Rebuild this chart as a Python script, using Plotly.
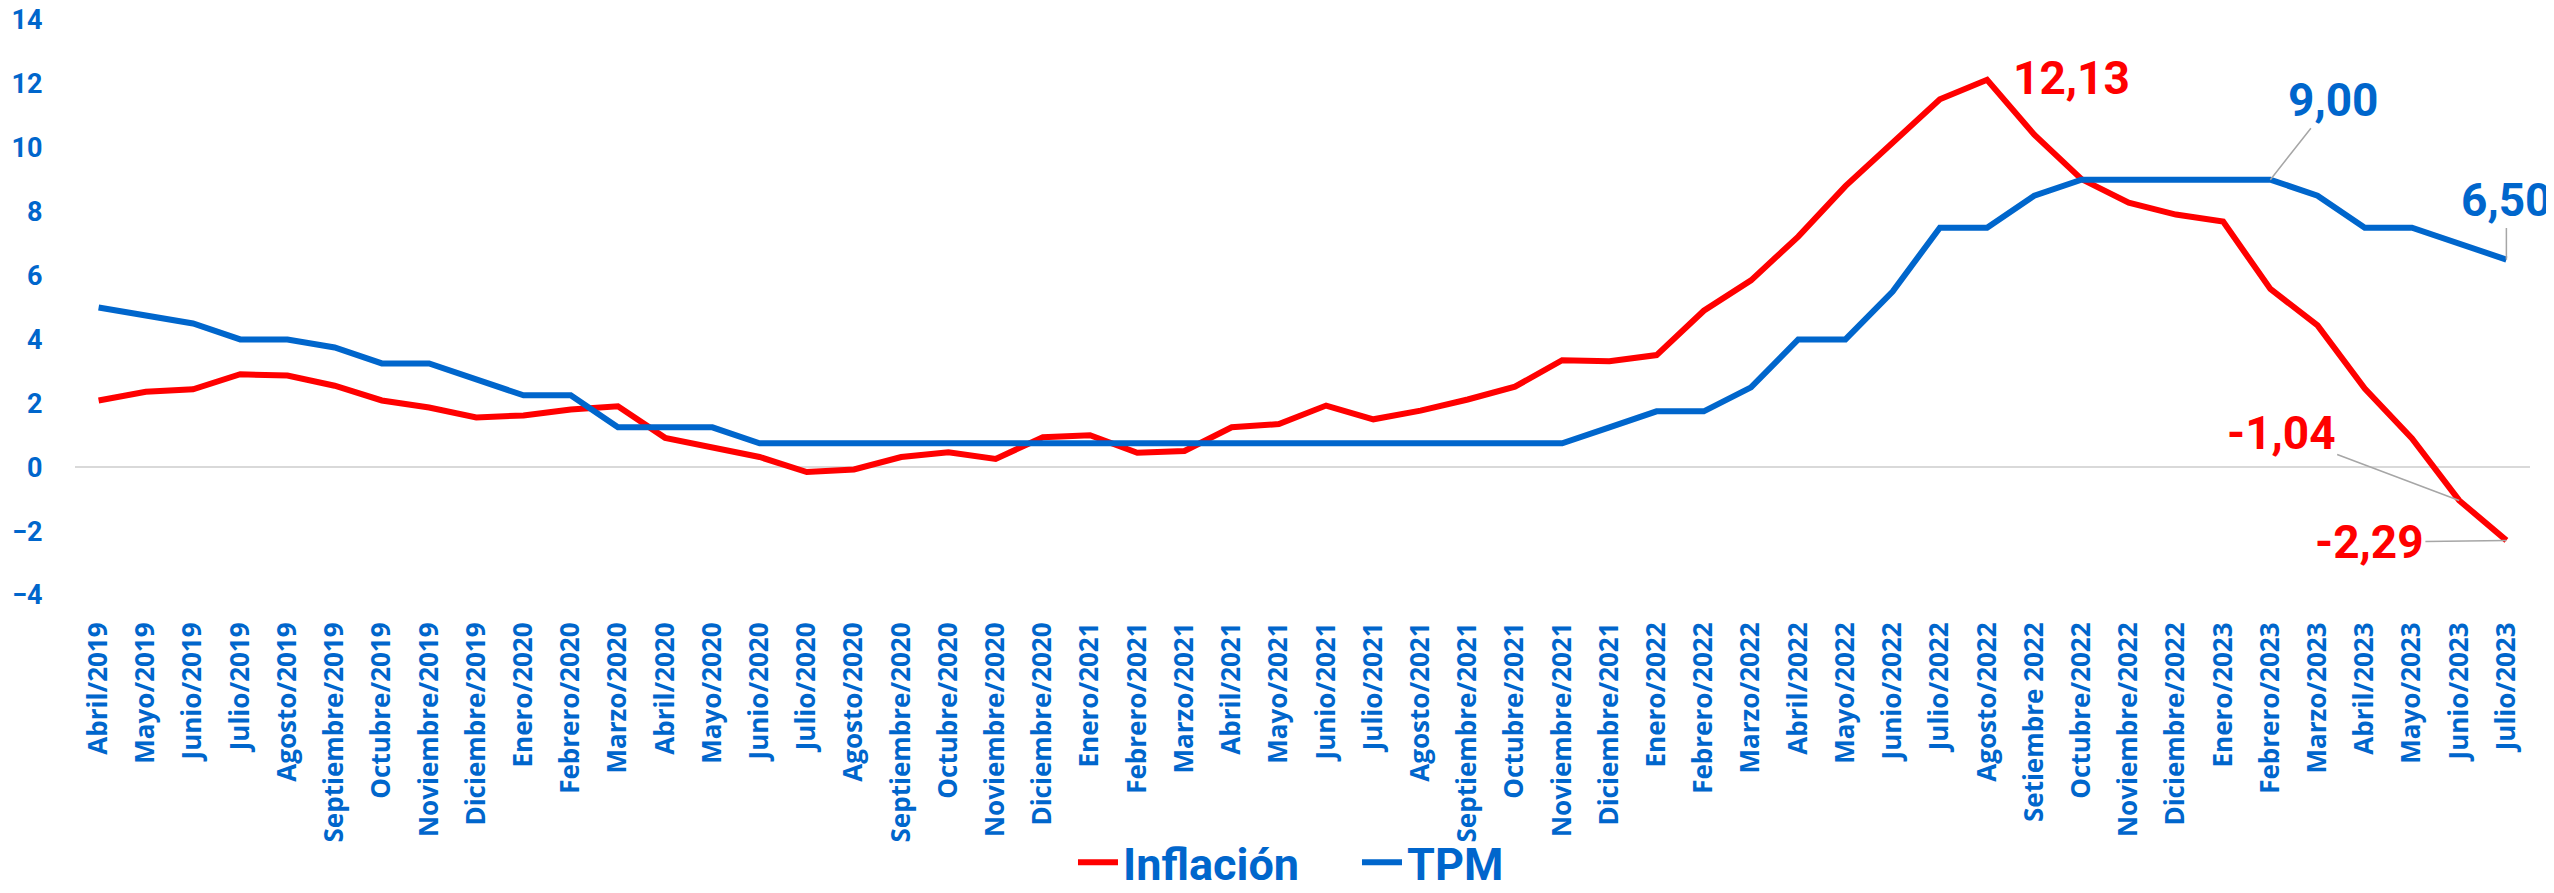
import plotly.graph_objects as go

categorias = [
    "Abril/2019", "Mayo/2019", "Junio/2019", "Julio/2019", "Agosto/2019", "Septiembre/2019",
    "Octubre/2019", "Noviembre/2019", "Diciembre/2019", "Enero/2020", "Febrero/2020", "Marzo/2020",
    "Abril/2020", "Mayo/2020", "Junio/2020", "Julio/2020", "Agosto/2020", "Septiembre/2020",
    "Octubre/2020", "Noviembre/2020", "Diciembre/2020", "Enero/2021", "Febrero/2021", "Marzo/2021",
    "Abril/2021", "Mayo/2021", "Junio/2021", "Julio/2021", "Agosto/2021", "Septiembre/2021",
    "Octubre/2021", "Noviembre/2021", "Diciembre/2021", "Enero/2022", "Febrero/2022", "Marzo/2022",
    "Abril/2022", "Mayo/2022", "Junio/2022", "Julio/2022", "Agosto/2022", "Setiembre 2022",
    "Octubre/2022", "Noviembre/2022", "Diciembre/2022", "Enero/2023", "Febrero/2023", "Marzo/2023",
    "Abril/2023", "Mayo/2023", "Junio/2023", "Julio/2023",
]

inflacion = [
    2.09, 2.36, 2.44, 2.91, 2.87, 2.55, 2.09, 1.87, 1.56, 1.62, 1.81, 1.91,
    0.92, 0.63, 0.32, -0.15, -0.07, 0.32, 0.47, 0.26, 0.94, 1.00, 0.45, 0.51,
    1.25, 1.35, 1.93, 1.50, 1.77, 2.12, 2.52, 3.35, 3.32, 3.51, 4.90, 5.85,
    7.22, 8.80, 10.14, 11.52, 12.13, 10.41, 9.02, 8.28, 7.91, 7.69, 5.58, 4.44,
    2.46, 0.90, -1.04, -2.29,
]

tpm = [
    5.00, 4.75, 4.50, 4.00, 4.00, 3.75, 3.25, 3.25, 2.75, 2.25, 2.25, 1.25,
    1.25, 1.25, 0.75, 0.75, 0.75, 0.75, 0.75, 0.75, 0.75, 0.75, 0.75, 0.75,
    0.75, 0.75, 0.75, 0.75, 0.75, 0.75, 0.75, 0.75, 1.25, 1.75, 1.75, 2.50,
    4.00, 4.00, 5.50, 7.50, 7.50, 8.50, 9.00, 9.00, 9.00, 9.00, 9.00, 8.50,
    7.50, 7.50, 7.00, 6.50,
]

y_ticks = [-4, -2, 0, 2, 4, 6, 8, 10, 12, 14]

RED = "#FF0000"
BLUE = "#0066CC"
LABEL_FONT = "Roboto, 'Liberation Sans', Arial, sans-serif"
TICK_FONT = "'Open Sans', 'Noto Sans', sans-serif"

fig = go.Figure()
fig.add_trace(go.Scatter(x=categorias, y=inflacion, mode="lines", name="Inflación",
                         line=dict(color=RED, width=6)))
fig.add_trace(go.Scatter(x=categorias, y=tpm, mode="lines", name="TPM",
                         line=dict(color=BLUE, width=6)))


def fmt(v):
    return f"{v:.2f}".replace(".", ",")


# (series, index, color, ax, ay, arrow)
etiquetas = [
    (inflacion, 40, RED, 84, -2, False),
    (tpm, 46, BLUE, 63, -80, True),
    (tpm, 51, BLUE, 0, -60, True),
    (inflacion, 50, RED, -178, -67, True),
    (inflacion, 51, RED, -137, 2, True),
]
for serie, i, col, ax, ay, arrow in etiquetas:
    if arrow:
        fig.add_annotation(x=categorias[i], y=serie[i], text=fmt(serie[i]),
                           showarrow=True, ax=ax, ay=ay, arrowhead=0, arrowwidth=1.5,
                           arrowcolor="#A6A6A6", standoff=0,
                           font=dict(family=LABEL_FONT, size=46, color=col, weight="bold"))
    else:
        fig.add_annotation(x=categorias[i], y=serie[i], text=fmt(serie[i]),
                           showarrow=False, xshift=ax, yshift=-ay,
                           font=dict(family=LABEL_FONT, size=46, color=col, weight="bold"))

# page body has an 8px default margin: figure is sized/offset to compensate
fig.update_layout(
    width=2546, height=885,
    margin=dict(l=67, r=24, t=12, b=298, autoexpand=False),
    paper_bgcolor="white", plot_bgcolor="white",
    showlegend=True,
    legend=dict(orientation="h", xref="container", yref="container",
                x=0.4183, y=0.0345, xanchor="left", yanchor="middle",
                font=dict(family=LABEL_FONT, size=45, color=BLUE, weight="bold"),
                itemwidth=40, entrywidth=229, entrywidthmode="pixels",
                bgcolor="rgba(0,0,0,0)"),
    xaxis=dict(type="category", range=[-0.5, len(categorias) - 0.5], tickangle=-90,
               showgrid=False, zeroline=False, showline=False, automargin=False,
               ticks="outside", ticklen=16, tickcolor="rgba(0,0,0,0)",
               tickfont=dict(family=TICK_FONT, size=26, color=BLUE, weight="bold")),
    yaxis=dict(range=[-4, 14], tickvals=y_ticks, showgrid=False, automargin=False,
               ticklabeloverflow="allow",
               zeroline=True, zerolinecolor="#D9D9D9", zerolinewidth=2, showline=False,
               ticks="outside", ticklen=26, tickcolor="rgba(0,0,0,0)",
               tickfont=dict(family=LABEL_FONT, size=27, color=BLUE, weight="bold")),
)

fig.write_html("out.html")
